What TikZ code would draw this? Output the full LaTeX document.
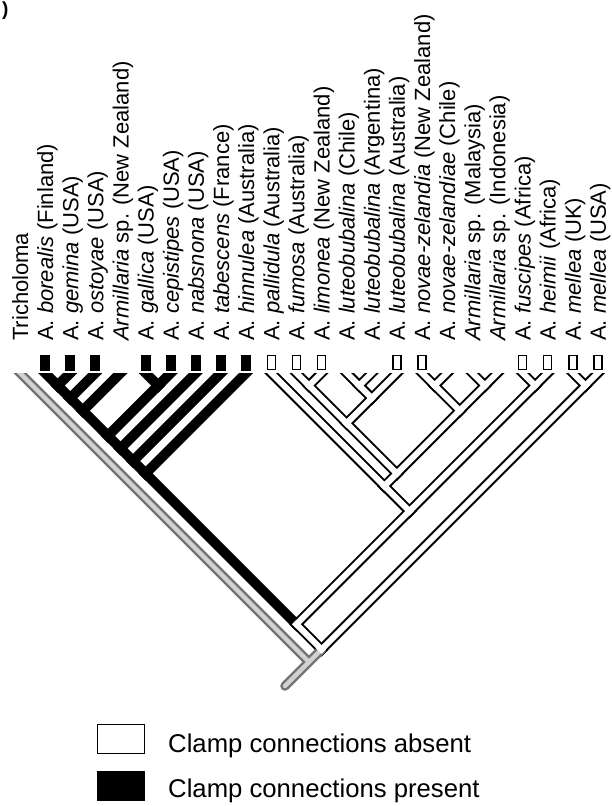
\documentclass[tikz,border=0pt]{standalone}
\usepackage{fontspec}
\setmainfont{Liberation Sans}
\usetikzlibrary{calc}
\newcommand\cladenode[3]{\coordinate (#1) at ({20+25.13*(#2+#3)/2},{373+25.13*(#3-#2)/2});}
\newcommand\taxlab[2]{\node[lab] (l#1) at ($(t#1)+(8,-32)$) {#2};}
\begin{document}
\begin{tikzpicture}[x=1pt,y=-1pt,
  lab/.style={rotate=90,anchor=base west,inner sep=0pt,font=\fontsize{22}{26}\selectfont},
  bout/.style={line width=10pt,black,line cap=rect},
  winn/.style={line width=6pt,white,line cap=rect},
  gout/.style={line width=9.5pt,black!55},
  ginn/.style={line width=4.5pt,black!18},
  clampyes/.style={draw=black,fill=black,line width=0.8pt,minimum width=9pt,minimum height=15pt,inner sep=0pt},
  clampno/.style={draw=black,fill=white,line width=1.4pt,minimum width=8pt,minimum height=14.5pt,inner sep=0pt},
  legtext/.style={anchor=base west,inner sep=0pt,font=\fontsize{25.7}{30}\selectfont}]
\useasboundingbox (0,0) rectangle (612,806);
\fill[white] (0,0) rectangle (612,806);
% tips
\foreach \i in {0,...,23} \coordinate (t\i) at ({20+25.13*\i},373);
\foreach \i/\d in {0/-1,1/-1,2/1,3/1,4/1,5/-1,6/1,7/1,8/1,9/1,10/-1,11/-1,12/1,13/-1,14/1,15/1,16/-1,17/1,18/-1,19/1,20/-1,21/1,22/-1,23/1}
  \coordinate (s\i) at ($(t\i)+({9*\d},-9)$);
% internal nodes
\cladenode{n12}{1}{2}
\cladenode{n13}{1}{3}
\cladenode{n14}{1}{4}
\cladenode{n56}{5}{6}
\cladenode{n16}{1}{6}
\cladenode{n17}{1}{7}
\cladenode{n18}{1}{8}
\cladenode{n19}{1}{9}
\cladenode{n1112}{11}{12}
\cladenode{n1314}{13}{14}
\cladenode{n1315}{13}{15}
\cladenode{n1115}{11}{15}
\cladenode{n1617}{16}{17}
\cladenode{n1819}{18}{19}
\cladenode{n1619}{16}{19}
\cladenode{n1119}{11}{19}
\cladenode{n1019}{10}{19}
\cladenode{n2021}{20}{21}
\cladenode{n1021}{10}{21}
\cladenode{n121}{1}{21}
\cladenode{n2223}{22}{23}
\cladenode{n123}{1}{23}
\cladenode{root}{0}{23}
\coordinate (stub) at ($(root)+(-24,24)$);
% tree
\begin{scope}
\clip (0,373) rectangle (612,806);
\foreach \a/\b in {s1/n12,s2/n12,n12/n13,s3/n13,n13/n14,s4/n14,n14/n16,s5/n56,s6/n56,n56/n16,n16/n17,s7/n17,n17/n18,s8/n18,n18/n19,s9/n19,n19/n121,
  s10/n1019,s11/n1112,s12/n1112,n1112/n1115,s13/n1314,s14/n1314,n1314/n1315,s15/n1315,n1315/n1115,n1115/n1119,s16/n1617,s17/n1617,n1617/n1619,s18/n1819,s19/n1819,n1819/n1619,n1619/n1119,n1119/n1019,n1019/n1021,s20/n2021,s21/n2021,n2021/n1021,n1021/n121,n121/n123,s22/n2223,s23/n2223,n2223/n123}
  \draw[bout] (\a) -- (\b);
\draw[gout] (s0) -- (root);
\draw[gout,line cap=round] (n123) -- (root) -- (stub);
\draw[ginn] (s0) -- (root);
\draw[ginn,line cap=round] (n123) -- (root) -- (stub);
\foreach \a/\b in {s10/n1019,s11/n1112,s12/n1112,n1112/n1115,s13/n1314,s14/n1314,n1314/n1315,s15/n1315,n1315/n1115,n1115/n1119,s16/n1617,s17/n1617,n1617/n1619,s18/n1819,s19/n1819,n1819/n1619,n1619/n1119,n1119/n1019,n1019/n1021,s20/n2021,s21/n2021,n2021/n1021,n1021/n121,n121/n123,s22/n2223,s23/n2223,n2223/n123}
  \draw[winn] (\a) -- (\b);
\end{scope}
% character boxes
\foreach \i in {1,2,3,5,6,7,8,9} \node[clampyes] (b\i) at ($(t\i)+(0,-10.5)$) {};
\foreach \i in {10,11,12,15,16,20,21,22,23} \node[clampno] (b\i) at ($(t\i)+(0,-10.5)$) {};
% labels
\taxlab{0}{Tricholoma}
\taxlab{1}{A. \textit{borealis} (Finland)}
\taxlab{2}{A. \textit{gemina} (USA)}
\taxlab{3}{A. \textit{ostoyae} (USA)}
\taxlab{4}{\textit{Armillaria} sp. (New Zealand)}
\taxlab{5}{A. \textit{gallica} (USA)}
\taxlab{6}{A. \textit{cepistipes} (USA)}
\taxlab{7}{A. \textit{nabsnona} (USA)}
\taxlab{8}{A. \textit{tabescens} (France)}
\taxlab{9}{A. \textit{hinnulea} (Australia)}
\taxlab{10}{A. \textit{pallidula} (Australia)}
\taxlab{11}{A. \textit{fumosa} (Australia)}
\taxlab{12}{A. \textit{limonea} (New Zealand)}
\taxlab{13}{A. \textit{luteobubalina} (Chile)}
\taxlab{14}{A. \textit{luteobubalina} (Argentina)}
\taxlab{15}{A. \textit{luteobubalina} (Australia)}
\taxlab{16}{A. \textit{novae-zelandia} (New Zealand)}
\taxlab{17}{A. \textit{novae-zelandiae} (Chile)}
\taxlab{18}{\textit{Armillaria} sp. (Malaysia)}
\taxlab{19}{\textit{Armillaria} sp. (Indonesia)}
\taxlab{20}{A. \textit{fuscipes} (Africa)}
\taxlab{21}{A. \textit{heimii} (Africa)}
\taxlab{22}{A. \textit{mellea} (UK)}
\taxlab{23}{A. \textit{mellea} (USA)}
% legend
\node[draw=black,line width=1.3pt,fill=white,minimum width=47pt,minimum height=29pt,inner sep=0pt,anchor=north west] (legabs) at (97,723.5) {};
\node[draw=black,line width=1pt,fill=black,minimum width=47pt,minimum height=29pt,inner sep=0pt,anchor=north west] (legpres) at (97,771) {};
\node[legtext] (legabst) at (168,752.5) {Clamp connections absent};
\node[legtext] (legprest) at (168,797) {Clamp connections present};
% fragment of panel letter
\node[anchor=base west,inner sep=0pt,font=\fontsize{19}{22}\selectfont\bfseries] (panel) at (2,15) {)};
\end{tikzpicture}
\end{document}
